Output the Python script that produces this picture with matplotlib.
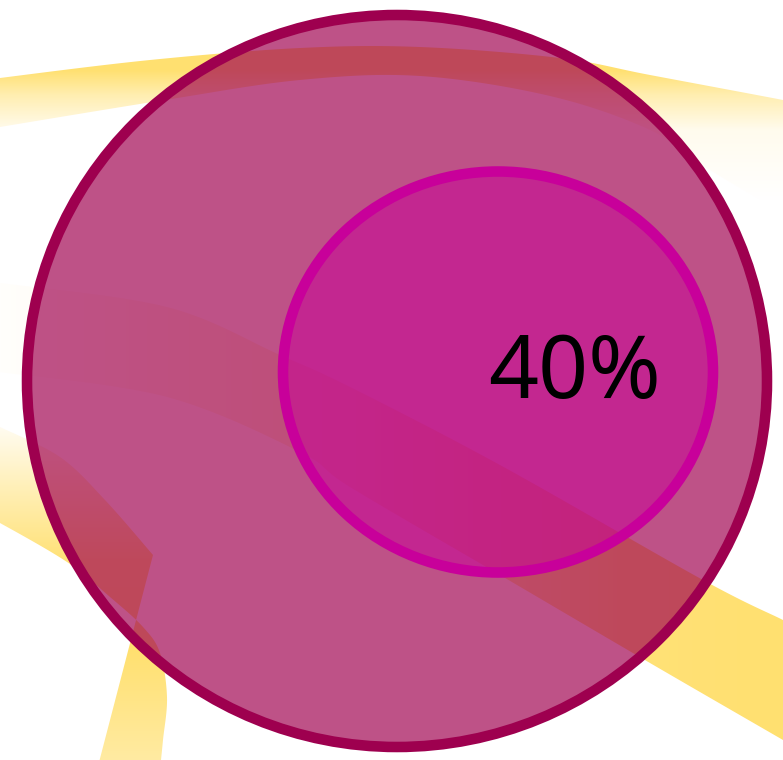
import numpy as np
import matplotlib
matplotlib.use("Agg")
from matplotlib import pyplot as plt
from matplotlib.patches import Ellipse, PathPatch
from matplotlib.path import Path

# label and circles (pixel space, y down)
label = "40%"
outer_circle = (397, 381, 740, 732)   # cx, cy, w, h
inner_circle = (498, 372, 430, 401)

# ribbon edges
top_upper = [(-10, 80), (0, 78), (150, 60), (300, 48), (420, 47), (560, 58), (650, 75), (783, 100), (800, 104)]
top_lower = [(-10, 129), (0, 127), (165, 100), (300, 80), (420, 76), (550, 96), (650, 130), (710, 170), (783, 213), (800, 224)]
mid_upper = [(-10, 282), (0, 283), (167, 307), (280, 355), (350, 387), (500, 465), (703, 580), (783, 620), (800, 629)]
mid_lower = [(-10, 371), (0, 372), (167, 397), (300, 452), (350, 487), (500, 575), (650, 663), (783, 740), (800, 750)]
low_upper = [(-10, 422), (0, 427), (60, 457), (105, 500), (153, 555)]
low_lower = [(160, 770), (163, 740), (167, 697), (160, 653), (143, 627), (110, 597), (67, 562), (0, 523), (-10, 519)]
low_corner_end = (97, 770)

yellow = np.array([255, 224, 112]) / 255.0
W, H = 783, 760


def smooth(pts, n=24):
    p = np.array(pts, float)
    p = np.vstack([p[0], p, p[-1]])
    out = []
    for i in range(1, len(p) - 2):
        p0, p1, p2, p3 = p[i - 1], p[i], p[i + 1], p[i + 2]
        t = np.linspace(0, 1, n, endpoint=False)[:, None]
        out.append(0.5 * (2 * p1 + (-p0 + p2) * t + (2 * p0 - 5 * p1 + 4 * p2 - p3) * t ** 2
                          + (-p0 + 3 * p1 - 3 * p2 + p3) * t ** 3))
    out.append(p[-2][None])
    return np.vstack(out)


def ribbon(ax, verts, s):
    rgba = np.ones((H, W, 4))
    rgba[..., :3] = 1 - s[..., None] * (1 - yellow)
    im = ax.imshow(rgba, extent=(0, W, H, 0), origin="upper", zorder=1, interpolation="bilinear")
    patch = PathPatch(Path(verts, closed=True), facecolor="none", edgecolor="none")
    ax.add_patch(patch)
    im.set_clip_path(patch)


fig = plt.figure(figsize=(7.83, 7.60), dpi=100)
ax = fig.add_axes([0, 0, 1, 1])
ax.set_xlim(0, W)
ax.set_ylim(H, 0)
ax.axis("off")

X, Y = np.meshgrid(np.arange(W) + 0.5, np.arange(H) + 0.5)

# top ribbon: vertical fade, yellow up top, white below
up = smooth(top_upper)
lo = smooth(top_lower)
s1 = np.interp(Y, [70, 95, 130, 200], [1.0, 0.55, 0.12, 0.0])
ribbon(ax, np.vstack([up, lo[::-1]]), s1)

# middle ribbon: white on the left, yellow to the right
up = smooth(mid_upper)
lo = smooth(mid_lower)
s2 = np.interp(X, [0, 80, 350, 620, 783], [0.02, 0.08, 0.35, 0.95, 1.0])
ribbon(ax, np.vstack([up, lo[::-1]]), s2)

# lower-left ribbon turning downward
up = smooth(low_upper)
lo = smooth(low_lower)
verts = np.vstack([up, [low_corner_end], lo])
s3 = np.interp(Y, [427, 480, 560, 650, 760], [0.1, 0.45, 0.95, 1.0, 0.65])
ribbon(ax, verts, s3)

# circles
cx, cy, w, h = outer_circle
ax.add_patch(Ellipse((cx, cy), w, h, facecolor="#A0004F", alpha=0.68, edgecolor="none", zorder=2))
ax.add_patch(Ellipse((cx, cy), w, h, facecolor="none", edgecolor="#9E004F", linewidth=7.6, zorder=3))
cx, cy, w, h = inner_circle
ax.add_patch(Ellipse((cx, cy), w, h, facecolor="#C8009A", alpha=0.52, edgecolor="none", zorder=4))
ax.add_patch(Ellipse((cx, cy), w, h, facecolor="none", edgecolor="#C8009A", linewidth=7.6, zorder=5))

ax.text(574, 398, label, ha="center", va="baseline", fontsize=63,
        family=["Noto Sans", "DejaVu Sans"], color="black", zorder=6)

fig.savefig("out.png", dpi=100)
